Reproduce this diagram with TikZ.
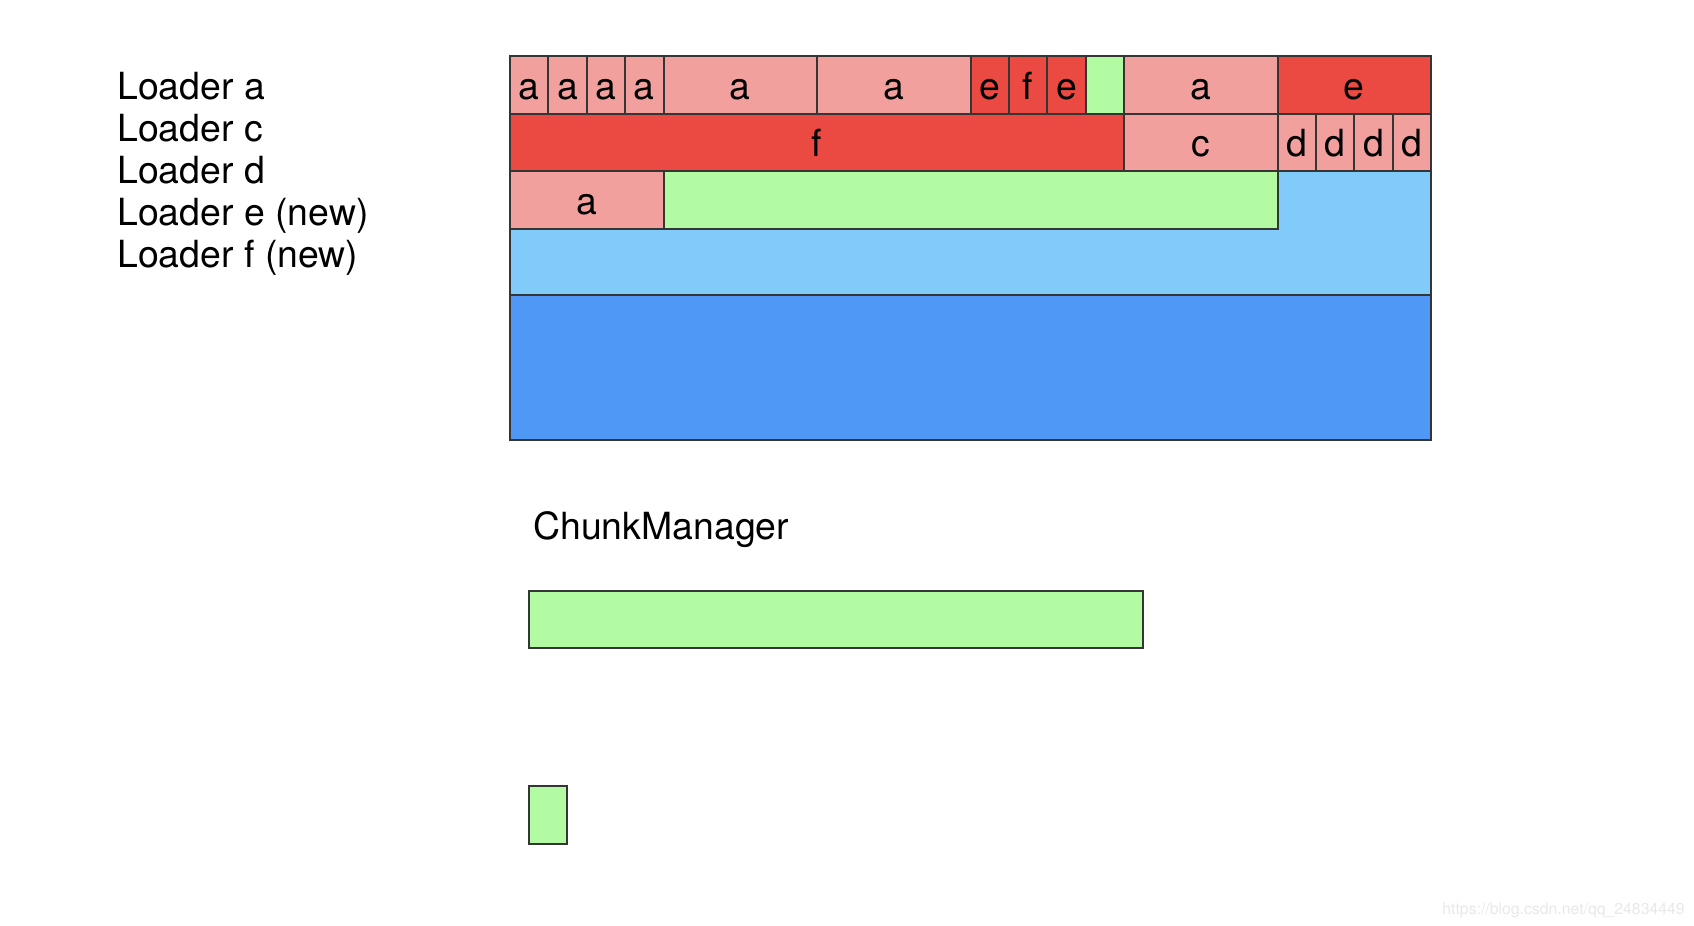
\documentclass[tikz,border=0pt]{standalone}
\usepackage{fontspec}
\setmainfont{TeX Gyre Heros}
\usepackage{tikz}
\usetikzlibrary{positioning}

\definecolor{edgegray}{HTML}{353535}
\definecolor{usedpink}{HTML}{F1A09D}
\definecolor{usedred}{HTML}{EA4A42}
\definecolor{freegreen}{HTML}{B2FBA3}
\definecolor{poolblue}{HTML}{80CBF9}
\definecolor{heapblue}{HTML}{4F98F5}

\begin{document}
\begin{tikzpicture}[
      x=0.5pt, y=-0.5pt,
      font=\fontsize{18.7}{21}\selectfont,
      cell/.style={draw=edgegray, line width=1pt, anchor=north west, inner sep=0pt, outer sep=0pt,
                   minimum height=28.75pt, text height=14.4pt, text depth=0pt},
      cols/.style={minimum width=#1*19.1875pt},
      used/.style={cell, fill=usedpink},
      hot/.style={cell, fill=usedred},
      free/.style={cell, fill=freegreen},
      loader/.style={anchor=base west, inner sep=0pt}
    ]
    \useasboundingbox (0,0) rectangle (1694,926);

    \foreach \t [count=\i from 0] in {Loader a, Loader c, Loader d, Loader e (new), Loader f (new)}
      \node[loader] (load\i) at (117, 99.4+42.1*\i) {\t};

    \begin{scope}[shift={(510,56)}, x=19.1875pt, y=-28.75pt]
      % pool and heap below the rows
      \node[cell, fill=poolblue, cols=24, minimum height=62pt] (pool) at (0,2) {};
      \node[cell, fill=heapblue, cols=24, minimum height=72.5pt] (heap) at (0,4.157) {};

      % row 1
      \foreach \k in {0,...,3}
        \node[used, cols=1] (sa\k) at (\k,0) {a};
      \node[used, cols=4] (wa1) at (4,0) {a};
      \node[used, cols=4] (wa2) at (8,0) {a};
      \node[hot, cols=1] (se1) at (12,0) {e};
      \node[hot, cols=1] (sf1) at (13,0) {f};
      \node[hot, cols=1] (se2) at (14,0) {e};
      \node[free, cols=1] (sg1) at (15,0) {};
      \node[used, cols=4] (wa3) at (16,0) {a};
      \node[hot, cols=4] (we1) at (20,0) {e};

      % row 2
      \node[hot, cols=16] (wf1) at (0,1) {f};
      \node[used, cols=4] (wc1) at (16,1) {c};
      \foreach \k in {0,...,3}
        \node[used, cols=1] (sd\k) at (20+\k,1) {d};

      % row 3
      \node[used, cols=4] (wa4) at (0,2) {a};
      \node[free, cols=16] (wg1) at (4,2) {};
    \end{scope}

    \node[loader] (chunkmgr) at (533,539) {ChunkManager};
    \node[free, cols=16, minimum height=28.5pt] (chunk) at (529,591) {};
    \node[free, cols=1] (piece) at (529,786) {};

    \node[loader, text=black!9, font=\fontsize{7.9}{9}\selectfont] (mark) at (1442,914) {https://blog.csdn.net/qq\_24834449};
  \end{tikzpicture}
\end{document}
